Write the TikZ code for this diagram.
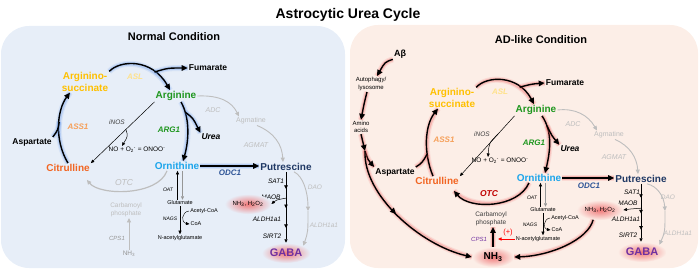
\documentclass[tikz,border=0pt]{standalone}
\usepackage{fontspec}
\setmainfont{Liberation Sans}
\usetikzlibrary{arrows.meta,shapes.geometric,decorations.markings}

\definecolor{bgN}{RGB}{231,238,248}
\definecolor{bgA}{RGB}{252,238,231}
\definecolor{glowB}{RGB}{90,145,235}
\definecolor{glowR}{RGB}{240,80,80}
\definecolor{pinkG}{RGB}{240,120,120}
\definecolor{goldC}{RGB}{255,192,0}
\definecolor{aslC}{RGB}{255,226,140}
\definecolor{assC}{RGB}{246,160,90}
\definecolor{argC}{RGB}{30,150,30}
\definecolor{citC}{RGB}{242,101,34}
\definecolor{ornC}{RGB}{28,165,235}
\definecolor{putC}{RGB}{31,56,100}
\definecolor{odcC}{RGB}{47,85,151}
\definecolor{gabaC}{RGB}{112,48,160}
\definecolor{otcC}{RGB}{192,0,0}
\definecolor{fadeC}{RGB}{190,190,190}
\definecolor{greyC}{RGB}{150,150,150}
\definecolor{darkC}{RGB}{60,60,60}

\tikzset{
  metab/.style={font=\bfseries\fontsize{10}{11.5}\selectfont},
  minor/.style={font=\bfseries\fontsize{8.5}{10}\selectfont},
  enzB/.style={font=\bfseries\itshape\fontsize{8}{9}\selectfont},
  enzS/.style={font=\itshape\fontsize{6.5}{7.5}\selectfont},
  enzT/.style={font=\itshape\fontsize{5}{6}\selectfont},
  smallT/.style={font=\fontsize{6.5}{7.5}\selectfont},
  labT/.style={font=\fontsize{6}{8}\selectfont},
  tinyT/.style={font=\fontsize{5.5}{6.5}\selectfont},
  thinArr/.style={line width=.5pt, -{Triangle[length=3.5pt,width=3pt]}},
  fadeArr/.style={draw=fadeC, line width=.9pt, -{Triangle[length=4.5pt,width=4pt]}},
  flow/.style={line width=1.4pt, -{Triangle[length=6pt,width=5.5pt]},
    preaction={draw=#1, line width=6pt, opacity=.12, -},
    preaction={draw=#1, line width=3.6pt, opacity=.25, -}},
  flowN/.style={flow=glowB},
  flowA/.style={flow=glowR},
  midArr/.style={decoration={markings,
    mark=at position #1 with {\arrow{Triangle[length=6pt,width=5.5pt]}}},
    postaction={decorate}},
  steps/.style={decoration={markings,
    mark=at position .24 with {\arrow{Triangle[length=3.5pt,width=3.5pt]}},
    mark=at position .51 with {\arrow{Triangle[length=3.5pt,width=3.5pt]}},
    mark=at position .79 with {\arrow{Triangle[length=3.5pt,width=3.5pt]}}},
    postaction={decorate}},
  glowE/.style={ellipse, minimum width=42pt, minimum height=20pt, shade,
    inner color=pinkG, outer color=#1}
}

\begin{document}
\begin{tikzpicture}[x=1pt, y=-1pt, every node/.style={inner sep=1pt, align=center}]
\useasboundingbox (0,0) rectangle (700,272);
\fill[bgN, rounded corners=28pt] (1,26) rectangle (345,268);
\fill[bgA, rounded corners=28pt] (350,25) rectangle (698,268);

\node[font=\bfseries\fontsize{14}{16}\selectfont] (title) at (348,15) {Astrocytic Urea Cycle};
\node[font=\bfseries\fontsize{11}{13}\selectfont] (condN) at (174,37) {Normal Condition};
\node[font=\bfseries\fontsize{11}{13}\selectfont] (condA) at (541,40) {AD-like Condition};

% normal condition
\node[metab, text=goldC] (asN) at (85,82) {Arginino-\\succinate};
\node[enzB, text=aslC] (aslN) at (135,77) {ASL};
\node[minor] (fumN) at (208,68) {Fumarate};
\node[metab, text=argC] (argN) at (176,96) {Arginine};
\node[enzS, text=darkC] (inosN) at (117,122) {iNOS};
\node[smallT] (noN) at (137,150) {NO + O\textsubscript{2}\textsuperscript{-} = ONOO\textsuperscript{-}};
\node[enzB, text=argC] (arg1N) at (169,130) {ARG1};
\node[font=\bfseries\itshape\fontsize{8.5}{10}\selectfont] (ureaN) at (211,137) {Urea};
\node[font=\itshape\fontsize{7}{8}\selectfont, text=fadeC] (adcN) at (213,110) {ADC};
\node[font=\fontsize{7}{8}\selectfont, text=fadeC] (agmN) at (251,121) {Agmatine};
\node[font=\itshape\fontsize{7}{8}\selectfont, text=fadeC] (agmatN) at (256,145) {AGMAT};
\node[minor] (aspN) at (32,142) {Aspartate};
\node[enzB, text=assC] (ass1N) at (78,127) {ASS1};
\node[metab, text=citC] (citN) at (68,168) {Citrulline};
\node[metab, text=ornC] (ornN) at (177,166) {Ornithine};
\node[font=\itshape\fontsize{8.5}{10}\selectfont, text=fadeC] (otcN) at (124,183) {OTC};
\node[smallT, text=fadeC] (cpN) at (126,210) {Carbamoyl\\phosphate};
\node[font=\itshape\fontsize{6}{7}\selectfont, text=greyC] (cps1N) at (117,238) {CPS1};
\node[smallT, text=greyC] (nh3N) at (129,254) {NH\textsubscript{3}};
\node[enzT] (oatN) at (168,190) {OAT};
\node[tinyT] (gluN) at (180,203) {Glutamate};
\node[enzT] (nagsN) at (170,219) {NAGS};
\node[tinyT] (acoaN) at (204,211) {Acetyl-CoA};
\node[tinyT] (coaN) at (196,224) {CoA};
\node[tinyT] (naglN) at (180,238) {N-acetylglutamate};
\node[enzB, text=odcC] (odc1N) at (230,173) {ODC1};
\node[metab, text=putC] (putN) at (286,167) {Putrescine};
\node[enzS] (sat1N) at (276,181) {SAT1};
\node[enzS] (maobN) at (271,197) {MAOB};
\node[glowE=bgN, minimum width=40pt, font=\fontsize{6}{7}\selectfont] (rosN) at (248,204) {NH\textsubscript{3}, H\textsubscript{2}O\textsubscript{2}};
\node[enzS] (aldhN) at (267,219) {ALDH1a1};
\node[enzS] (sirtN) at (272,236) {SIRT2};
\node[glowE=bgN, font=\bfseries\fontsize{11}{13}\selectfont, text=gabaC] (gabaN) at (286,253) {GABA};
\node[enzS, text=fadeC] (daoN) at (315,187) {DAO};
\node[enzS, text=fadeC] (aldh2N) at (324,225) {ALDH1a1};

\coordinate (oatUpN) at ([xshift=-2.5pt]gluN.north);
\coordinate (oatDnN) at ([xshift=2.5pt]gluN.north);
\coordinate (daoMidN) at (308,211);

\draw[flowN] (citN.north) .. controls (54,140) and (57,110) .. ([xshift=-15pt]asN.south) coordinate[pos=.55] (ass1jN);
\draw[flowN,-] (aspN.north east) .. controls (58,130) .. (ass1jN);
\draw[flowN] (asN.north east) .. controls (120,60) and (152,58) .. ([xshift=-6pt]argN.north) coordinate[pos=.75] (aslbN);
\draw[flowN] (aslbN) .. controls (168,68) .. (fumN.west);
\draw[flowN] ([xshift=5pt]argN.south) .. controls (190,118) and (189,140) .. ([xshift=6pt]ornN.north) coordinate[pos=.2] (arg1bN);
\draw[flowN] (arg1bN) .. controls (193,118) .. (ureaN.north west);
\draw[flowN] (ornN.east) -- (ornN.east -| putN.west);
\draw[thinArr] (argN.south west) -- (citN.north east) coordinate[pos=.45] (inosbN);
\draw[thinArr] (inosbN) .. controls (128,136) .. ([xshift=-15pt]noN.north);
\draw[fadeArr] (argN.east) .. controls (220,95) and (232,102) .. ([xshift=-12pt]agmN.north);
\draw[fadeArr] ([xshift=6pt]agmN.south) .. controls (275,133) and (282,145) .. ([xshift=-3pt]putN.north);
\draw[fadeArr, line width=1.2pt] ([xshift=-10pt]ornN.south) .. controls (158,196) and (100,196) .. ([xshift=-4pt,yshift=-7pt]citN.south east);
\draw[fadeArr] (nh3N.north) -- (nh3N.north |- cpN.south);
\draw[thinArr] (oatUpN) -- (oatUpN |- ornN.south);
\draw[thinArr, greyC] (oatDnN |- ornN.south) -- (oatDnN);
\draw[thinArr] (gluN.south) -- (gluN.south |- naglN.north);
\draw[thinArr, line width=.4pt] (acoaN.west) .. controls (181,212) and (181,223) .. (coaN.west);
\draw[thinArr, line width=.7pt, steps] (putN.south) -- (putN.south |- gabaN.north) coordinate[pos=.37] (maobjN);
\draw[thinArr] (maobjN) .. controls (276,200) .. (rosN.east);
\draw[fadeArr] ([xshift=8pt]putN.south) .. controls (303,176) and (308,192) .. (daoMidN);
\draw[fadeArr] (daoMidN) .. controls (308,232) .. (gabaN.north east);

% AD-like condition
\node[font=\bfseries\fontsize{9}{10}\selectfont] (abA) at (400,54) {Aβ};
\node[labT] (autoA) at (371,84) {Autophagy/\\lysosome};
\node[font=\fontsize{6}{7.5}\selectfont] (aminoA) at (361,127) {Amino\\acids};
\node[minor] (aspA) at (395,172) {Aspartate};
\node[metab, text=goldC] (asA) at (452,98) {Arginino-\\succinate};
\node[enzB, text=aslC] (aslA) at (500,92) {ASL};
\node[minor] (fumA) at (565,83) {Fumarate};
\node[metab, text=argC] (argA) at (536,110) {Arginine};
\node[enzS, text=darkC] (inosA) at (482,134) {iNOS};
\node[smallT] (noA) at (500,161) {NO + O\textsubscript{2}\textsuperscript{-} = ONOO\textsuperscript{-}};
\node[enzB, text=argC] (arg1A) at (534,143) {ARG1};
\node[font=\bfseries\itshape\fontsize{8.5}{10}\selectfont] (ureaA) at (570,149) {Urea};
\node[font=\itshape\fontsize{7}{8}\selectfont, text=fadeC] (adcA) at (573,124) {ADC};
\node[font=\fontsize{7}{8}\selectfont, text=fadeC] (agmA) at (609,135) {Agmatine};
\node[font=\itshape\fontsize{7}{8}\selectfont, text=fadeC] (agmatA) at (614,157) {AGMAT};
\node[enzB, text=assC] (ass1A) at (444,140) {ASS1};
\node[metab, text=citC] (citA) at (437,181) {Citrulline};
\node[metab, text=ornC] (ornA) at (539,178) {Ornithine};
\node[font=\bfseries\itshape\fontsize{8.5}{10}\selectfont, text=otcC] (otcA) at (489,194) {OTC};
\node[smallT, text=darkC] (cpA) at (491,219) {Carbamoyl\\phosphate};
\node[font=\itshape\fontsize{6}{7}\selectfont, text=gabaC] (cps1A) at (479,239) {CPS1};
\node[font=\fontsize{7.5}{8}\selectfont, text=red] (plusA) at (508,233) {(+)};
\node[enzT] (oatA) at (532,198) {OAT};
\node[tinyT] (gluA) at (543,210) {Glutamate};
\node[tinyT] (acoaA) at (565,218) {Acetyl-CoA};
\node[enzT] (nagsA) at (530,225) {NAGS};
\node[tinyT] (coaA) at (557,230) {CoA};
\node[tinyT] (naglA) at (538,239) {N-acetylglutamate};
\node[glowE=bgA, font=\bfseries\fontsize{10}{12}\selectfont] (nh3A) at (493,257) {NH\textsubscript{3}};
\node[enzB, text=odcC] (odc1A) at (589,186) {ODC1};
\node[metab, text=putC] (putA) at (641,179) {Putrescine};
\node[enzS] (sat1A) at (632,192) {SAT1};
\node[enzS] (maobA) at (628,203) {MAOB};
\node[glowE=bgA, minimum width=40pt, font=\fontsize{6}{7}\selectfont] (rosA) at (600,210) {NH\textsubscript{3}, H\textsubscript{2}O\textsubscript{2}};
\node[enzS] (aldhA) at (626,219) {ALDH1a1};
\node[enzS] (sirtA) at (628,235) {SIRT2};
\node[glowE=bgA, font=\bfseries\fontsize{11}{13}\selectfont, text=gabaC] (gabaA) at (642,252) {GABA};
\node[enzS, text=fadeC] (daoA) at (668,197) {DAO};
\node[enzS, text=fadeC] (aldh2A) at (678,233) {ALDH1a1};

\coordinate (splitA) at (365,151);
\coordinate (cpsTipA) at (498,239);
\coordinate (oatUpA) at ([xshift=-2.5pt]gluA.north);
\coordinate (oatDnA) at ([xshift=2.5pt]gluA.north);
\coordinate (daoMidA) at (665,211);

\draw[flowA] (abA.south west) .. controls (385,62) .. ([xshift=6pt]autoA.north);
\draw[flowA] ([xshift=-4pt]autoA.south) .. controls (364,104) .. (aminoA.north);
\draw[flowA] (aminoA.south) -- (splitA);
\draw[flowA] (splitA) .. controls (368,160) .. (aspA.north west);
\draw[flowA, midArr=.45] (splitA) .. controls (363,195) and (420,245) .. (nh3A.west);
\draw[flowA] ([xshift=-4pt]citA.north) .. controls (423,152) and (425,125) .. ([xshift=-14pt]asA.south) coordinate[pos=.3] (ass1jA);
\draw[flowA,-] (aspA.north east) .. controls (422,163) .. (ass1jA);
\draw[flowA] (asA.north east) .. controls (486,76) and (518,74) .. ([xshift=-2pt]argA.north) coordinate[pos=.75] (aslbA);
\draw[flowA] (aslbA) .. controls (532,84) .. (fumA.west);
\draw[flowA] ([xshift=6pt]argA.south) .. controls (553,132) and (550,152) .. ([xshift=6pt]ornA.north) coordinate[pos=.2] (arg1bA);
\draw[flowA] (arg1bA) .. controls (552,136) .. (ureaA.north west);
\draw[flowA] (ornA.east) -- (ornA.east -| putA.west);
\draw[flowA] ([xshift=-10pt]ornA.south) .. controls (518,208) and (470,210) .. ([xshift=-6pt,yshift=-5pt]citA.south east);
\draw[flowA] (nh3A.north) -- (nh3A.north |- cpA.south);
\draw[flowA] (rosA.235) .. controls (588,240) and (550,256) .. (nh3A.east);
\draw[thinArr, red, line width=.8pt] (naglA.west) -- (cpsTipA);
\draw[thinArr] (argA.south west) -- (citA.north east) coordinate[pos=.3] (inosbA);
\draw[thinArr] (inosbA) .. controls (489,143) .. ([xshift=-12pt]noA.north);
\draw[fadeArr] (argA.east) .. controls (575,108) and (588,115) .. ([xshift=-12pt]agmA.north);
\draw[fadeArr] ([xshift=6pt]agmA.south) .. controls (630,146) and (637,158) .. ([xshift=-3pt]putA.north);
\draw[thinArr] (oatUpA) -- (oatUpA |- ornA.south);
\draw[thinArr, greyC] (oatDnA |- ornA.south) -- (oatDnA);
\draw[thinArr] (gluA.south) -- (gluA.south |- naglA.north);
\draw[thinArr, line width=.4pt] (acoaA.west) .. controls (543,219) and (543,229) .. (coaA.west);
\draw[thinArr, line width=.7pt, steps] (putA.south) -- (putA.south |- gabaA.north) coordinate[pos=.42] (maobjA);
\draw[thinArr] (maobjA) .. controls (630,209) .. (rosA.east);
\draw[fadeArr] ([xshift=6pt]putA.south) .. controls (657,186) and (664,196) .. (daoMidA);
\draw[fadeArr] (daoMidA) .. controls (665,232) .. (gabaA.north east);
\end{tikzpicture}
\end{document}
